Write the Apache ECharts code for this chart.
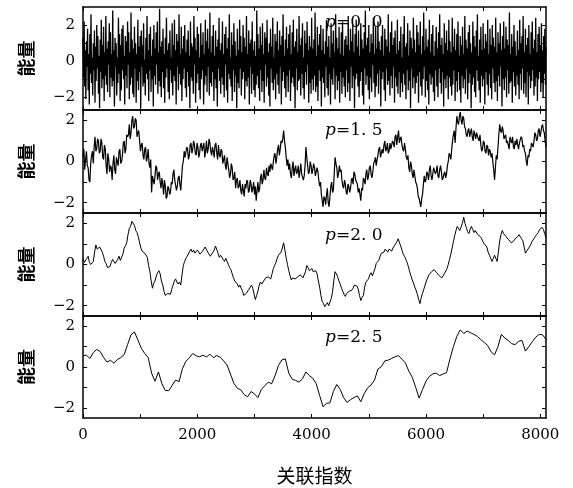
<!DOCTYPE html>
<html>
<head>
<meta charset="utf-8">
<script src="https://cdn.jsdelivr.net/npm/echarts@6/dist/echarts.min.js"></script>
<style>
  html, body { margin: 0; padding: 0; background: #fff; }
  #chart { width: 573px; height: 488px; }
</style>
</head>
<body>
<div id="chart"></div>
<script>
// energy series (sample spacing in steps[])
const p00 = [
  1.3,-0.9,2.2,-1.4,0.6,-2.1,1.1,-0.3,1.8,-1.6,0.4,-2.4,1.5,-0.7,2.6,-1.2,0.2,-1.9,1.0,-0.5,
  1.7,-2.3,0.8,-1.1,2.0,-0.4,1.4,-1.8,0.3,-2.6,1.2,-0.6,2.3,-1.5,0.9,-1.0,1.9,-2.2,0.5,-0.8,
  2.5,-1.3,0.7,-1.7,1.1,-0.2,2.1,-2.0,1.6,-0.9,0.4,-1.4,2.8,-1.1,0.6,-2.5,1.3,-0.3,1.0,-1.9,
  0.2,-1.2,2.4,-0.7,1.5,-2.2,0.9,-1.6,1.8,-0.5,2.0,-1.0,0.3,-2.4,1.4,-0.8,1.1,-1.5,2.2,-0.2,
  1.6,-2.1,0.5,-1.3,2.7,-0.9,1.2,-1.8,0.7,-2.0,1.9,-0.4,1.0,-2.3,0.4,-1.1,2.3,-1.6,0.8,-0.6,
  1.4,-2.6,1.7,-0.3,0.9,-1.4,2.1,-1.2,0.1,-1.9,1.3,-0.7,2.5,-1.0,0.6,-2.2,1.5,-0.5,1.9,-1.7,
  0.3,-1.0,1.2,-2.5,2.0,-0.8,0.7,-1.3,1.6,-0.2,2.2,-1.8,0.5,-1.1,2.9,-1.4,0.8,-2.0,1.1,-0.6,
  1.8,-1.5,0.4,-2.3,1.3,-0.9,2.4,-0.4,0.6,-1.7,1.0,-2.1,1.7,-0.5,0.2,-1.2,2.1,-1.9,0.9,-0.8,
  2.3,-1.1,0.6,-2.4,1.5,-0.3,1.1,-1.6,2.6,-0.7,0.4,-1.3,1.9,-2.2,0.7,-1.0,1.4,-0.4,2.0,-1.5,
  0.5,-2.0,1.2,-0.6,1.7,-1.4,0.3,-2.6,2.2,-0.9,1.0,-1.1,0.8,-1.8,2.5,-0.2,1.3,-2.3,0.6,-1.2,
  1.9,-0.7,1.5,-1.6,0.2,-2.1,2.1,-1.0,0.9,-0.5,1.6,-2.4,0.4,-1.3,2.3,-0.8,1.1,-1.7,1.8,-0.3,
  0.7,-1.9,2.7,-1.2,0.5,-1.4,1.4,-0.6,2.0,-2.2,0.3,-1.0,1.7,-1.5,0.8,-2.5,1.2,-0.4,2.4,-1.1,
  0.6,-1.8,1.0,-0.9,2.2,-1.3,0.4,-2.0,1.5,-0.2,1.9,-1.6,0.7,-2.3,1.3,-0.7,2.6,-1.0,0.2,-1.4,
  1.6,-2.2,0.9,-0.5,2.1,-1.7,1.1,-0.8,0.3,-2.6,1.8,-1.2,0.6,-1.5,2.3,-0.4,1.4,-1.9,0.5,-1.0,
  2.0,-0.6,1.3,-2.1,0.8,-1.1,2.5,-1.4,0.4,-0.9,1.7,-2.4,1.0,-0.3,1.2,-1.8,2.2,-0.7,0.6,-1.6,
  1.1,-2.0,0.3,-1.3,2.8,-0.8,1.5,-1.5,0.7,-2.2,1.9,-0.5,0.9,-1.7,2.1,-1.1,0.4,-2.3,1.6,-0.2,
  1.3,-1.4,2.3,-0.9,0.5,-1.9,1.0,-2.5,1.8,-0.4,0.8,-1.2,2.4,-1.6,0.2,-1.0,1.5,-2.1,1.1,-0.7,
  2.2,-1.3,0.6,-1.8,1.7,-0.3,0.9,-2.4,1.4,-1.1,2.6,-0.6,0.3,-1.5,1.2,-2.0,1.9,-0.8,0.7,-1.7,
  1.5,-0.5,2.0,-2.2,0.4,-1.2,1.6,-0.9,2.3,-1.4,0.8,-2.6,1.1,-0.4,1.8,-1.6,0.5,-1.1,2.5,-1.0,
  0.9,-1.9,1.3,-0.7,2.1,-1.5,0.2,-2.1,1.7,-0.6,1.0,-1.3,2.2,-0.2,0.6,-2.3,1.4,-1.2,0.8,-1.8,
  2.4,-1.0,0.7,-1.6,1.2,-0.8,2.7,-1.7,0.3,-1.4,1.9,-2.2,0.9,-0.5,1.5,-1.1,2.0,-2.5,0.6,-0.9,
  1.8,-1.2,0.4,-2.0,1.1,-0.3,2.3,-1.5,0.8,-1.9,1.4,-0.7,0.2,-2.4,2.1,-1.0,1.0,-1.3,1.7,-0.4,
  0.5,-2.1,2.6,-0.8,1.3,-1.6,0.7,-1.1,1.9,-2.3,0.4,-0.6,1.6,-1.8,2.2,-0.9,0.3,-1.4,1.2,-2.0,
  1.4,-0.5,0.9,-1.7,2.5,-1.2,0.6,-2.2,1.8,-0.3,1.1,-1.5,2.0,-0.8,0.5,-2.6,1.5,-1.0,2.3,-0.7,
  0.8,-1.4,1.7,-2.0,0.3,-1.1,2.1,-0.6,1.2,-1.9,0.7,-2.4,1.6,-0.4,2.8,-1.3,0.9,-0.8,1.3,-1.6,
  2.0,-2.1,0.5,-0.9,1.5,-1.7,1.0,-0.2,2.4,-1.2,0.4,-2.0,1.9,-1.4,0.7,-0.7,2.2,-1.8,1.1,-0.5,
  0.6,-2.5,1.4,-1.0,2.0,-0.6,0.3,-1.6,1.8,-2.2,1.2,-0.4,0.8,-1.3,2.6,-1.1,0.5,-1.9,1.6,-0.8,
  2.2,-1.5,0.9,-0.3,1.3,-2.3,1.7,-0.9,0.4,-1.4,2.3,-1.8,0.6,-0.6,1.1,-2.0,1.9,-1.2,0.2,-1.7,
  1.5,-0.7,2.5,-1.3,0.8,-2.1,1.0,-0.5,2.1,-1.6,0.3,-1.1,1.7,-2.6,1.3,-0.4,0.7,-1.5,2.4,-0.9,
  1.2,-1.8,0.5,-1.2,2.0,-0.8,1.6,-2.3,0.9,-0.6,2.2,-1.4,0.4,-1.9,1.4,-1.0,2.7,-0.3,0.6,-2.0,
  1.8,-1.1,0.8,-1.6,1.2,-2.4,2.3,-0.7,0.5,-1.3,1.5,-0.9,2.0,-1.7,0.3,-2.2,1.1,-0.5,1.9,-1.4,
  0.7,-2.0,1.6,-0.4,2.6,-1.2,0.9,-1.8,1.3,-0.6,0.4,-2.5,2.1,-1.0,1.0,-1.5,1.7,-0.8,0.6,-2.1,
  2.3,-0.9,1.1,-1.4,0.5,-1.9,2.4,-1.3,0.8,-0.5,1.8,-2.2,0.6,-1.1,1.5,-1.7,2.2,-0.6,0.3,-1.6,
  1.4,-2.3,0.9,-0.8,1.9,-1.5,0.4,-1.0,2.5,-1.8,1.2,-0.4,0.7,-2.1,1.6,-1.2,2.0,-0.7,1.0,-2.6,
  0.5,-1.3,2.2,-0.9,1.4,-1.7,0.8,-2.0,1.7,-0.5,2.6,-1.1,0.3,-1.6,1.2,-2.3,1.9,-0.8,0.6,-1.4,
  2.1,-1.0,0.7,-2.4,1.5,-0.6,1.1,-1.3,2.3,-1.9,0.4,-0.7,1.8,-1.5,0.9,-2.1,2.0,-0.4,1.3,-1.2,
  0.8,-1.7,2.4,-1.1,0.5,-2.2,1.6,-0.8,1.0,-1.4,2.1,-0.3,0.6,-2.5,1.4,-1.0,2.2,-1.6,0.7,-0.9,
  1.9,-2.0,1.2,-0.5,0.9,-1.8,2.7,-1.2,0.4,-1.1,1.5,-2.3,0.8,-0.6,2.0,-1.4,1.1,-1.9,0.3,-0.8,
  1.7,-1.3,0.6,-2.1,2.3,-0.7,1.0,-1.6,1.4,-0.4,2.5,-1.8,0.5,-1.2,1.8,-2.0,0.9,-0.6,1.3,-2.4,
  2.0,-0.8,0.4,-1.5,1.6,-1.1,2.2,-0.5,0.7,-1.9,1.2,-1.4,2.4,-0.9,0.5,-2.2,1.5,-1.0,1.9,-0.6,
  0.9,-1.7,2.1,-1.2,0.6,-2.0,1.4,-0.7,1.8,-1.3,0.8
]
const p15 = [
  0.2,0.6,-0.4,0.1,0.5,-0.2,-0.3,-0.9,-1.0,-0.1,0.3,0.5,-0.1,0.7,1.2,0.5,0.6,1.1,1.0,0.4,
  0.5,1.1,0.9,0.2,0.1,0.8,0.6,-0.2,-0.6,0.4,0.1,-0.5,-0.2,-0.3,-0.9,-0.1,0.3,-0.4,-0.6,0.2,
  0.2,-0.2,0.5,0.6,-0.1,0.0,0.3,0.9,1.0,0.4,0.6,1.3,1.2,1.3,1.8,1.1,1.4,2.0,2.2,1.6,
  1.7,2.1,2.0,1.2,1.4,1.5,1.0,0.5,0.8,0.9,0.3,0.1,0.6,0.7,0.0,0.2,0.6,-0.1,-0.3,0.1,
  -1.5,-0.7,-0.9,-1.1,-0.7,-0.2,-0.3,-0.9,-0.6,-0.5,-1.0,-1.3,-0.8,-1.1,-1.6,-0.9,-1.2,-1.8,-1.7,-1.2,
  -1.3,-1.6,-1.5,-1.0,-1.1,-0.6,-0.4,-0.9,-0.9,-1.4,-1.2,-0.8,-0.7,-1.1,-1.4,-0.8,-0.2,0.0,0.5,0.2,
  0.2,0.7,0.6,0.1,0.3,0.8,0.9,0.4,0.6,1.0,0.8,0.4,0.3,0.9,0.7,0.2,0.4,0.8,0.9,0.5,
  0.5,0.9,0.2,0.5,1.0,0.4,0.6,1.1,0.9,0.5,0.3,0.7,0.5,0.2,0.8,0.9,0.4,0.1,0.8,0.3,
  0.2,0.6,0.5,-0.1,0.1,0.3,-0.2,-0.4,0.2,-0.1,-0.4,-0.8,-0.6,-0.1,-0.3,-0.9,-0.8,-0.5,-1.3,-0.9,
  -0.8,-1.3,-1.2,-0.9,-1.4,-1.6,-1.1,-1.4,-1.7,-1.1,-1.3,-0.9,-1.0,-1.5,-1.4,-0.9,-1.1,-1.5,-1.3,-1.0,
  -1.6,-1.2,-1.9,-1.4,-1.0,-1.5,-1.3,-0.8,-0.6,-1.1,-0.9,-0.4,-0.8,-0.9,-0.3,-0.6,-0.7,-0.2,-0.5,-0.1,
  -0.1,-0.4,0.0,0.3,0.4,-0.1,0.2,0.6,0.8,0.3,0.6,1.0,0.9,1.1,1.5,1.0,0.7,0.2,-0.2,0.1,
  -0.4,-0.1,-0.6,-0.8,-0.3,0.0,-0.7,-0.4,-0.2,-0.6,-0.5,-0.2,-0.8,-0.5,-0.1,-0.6,-0.6,-0.9,-0.7,-0.2,
  0.7,0.2,-0.2,-0.6,-0.5,0.0,-0.2,-0.6,-0.4,-0.1,-0.3,-0.7,-0.7,-0.3,-0.5,-0.9,-1.2,-1.0,-1.6,-1.9,
  -2.2,-1.7,-1.8,-2.1,-1.6,-1.3,-2.0,-2.2,-1.7,-1.2,-1.0,-1.5,-1.4,-0.6,0.2,-0.1,-0.3,-0.8,-0.6,-0.2,
  -0.5,-0.4,-0.9,-1.2,-1.3,-0.9,-1.1,-1.5,-1.6,-1.1,-1.2,-1.5,-1.3,-0.9,-0.8,-1.1,-0.5,-0.6,-0.9,-1.0,
  -1.1,-1.5,-1.3,-1.6,-1.9,-1.3,-1.4,-0.8,-0.9,-1.1,-0.6,-0.4,-0.9,-0.7,-0.3,-0.2,-0.6,-0.8,-0.5,-0.1,
  0.0,0.2,-0.2,0.1,0.3,0.6,0.7,0.2,0.2,0.6,0.4,0.8,1.0,0.5,0.6,0.9,0.4,0.5,0.9,0.6,
  0.6,1.0,0.9,0.7,1.2,1.3,0.8,1.2,1.5,0.9,1.1,1.2,0.8,0.6,0.5,0.9,0.6,0.2,0.1,0.3,
  -0.3,-0.5,0.0,-0.2,-0.6,-0.8,-0.4,-0.7,-1.0,-1.1,-1.3,-1.7,-1.8,-2.0,-2.2,-1.8,-1.6,-1.1,-0.7,-1.0,
  -0.9,-0.5,-0.6,-0.9,-0.4,-0.2,-0.7,-0.9,-0.6,-0.3,-0.3,-0.6,-0.5,-0.2,-0.7,-0.8,-0.4,-0.2,-0.5,-0.9,
  -0.8,-0.6,-0.5,-0.8,-0.6,-0.2,0.0,0.4,0.3,0.1,0.6,1.0,1.3,1.5,0.9,1.6,2.2,1.9,1.8,2.2,
  2.4,2.0,1.8,2.2,2.1,1.7,1.6,1.3,1.2,1.5,1.6,1.2,1.4,1.6,1.2,1.0,1.5,1.3,1.1,1.4,
  1.4,1.1,1.0,1.3,0.8,0.5,0.6,1.0,0.9,0.5,0.4,0.8,0.7,0.3,0.6,0.5,0.2,0.4,0.0,-0.4,
  -0.9,-0.3,0.3,0.1,0.7,1.3,1.8,1.5,1.4,1.7,1.5,1.1,1.2,1.3,0.9,1.0,0.8,0.6,1.2,1.0,
  0.9,1.2,0.7,0.6,1.0,0.8,1.1,0.8,0.6,0.9,0.9,1.2,1.1,0.7,0.8,0.5,0.4,0.0,-0.2,0.3,
  0.2,0.6,0.5,0.9,0.8,0.7,1.0,1.4,1.3,1.0,1.1,1.5,1.6,1.2,1.4,1.7,1.8,1.5,1.4,1.0,
  0.7
]
const p20 = [
  0.3,0.1,0.05,0.3,0.4,0.1,0.0,0.0,0.15,0.6,0.95,0.75,0.7,0.85,0.9,0.6,0.4,0.15,0.05,-0.15,
  -0.2,-0.1,0.1,0.25,0.25,0.05,0.0,0.25,0.4,0.2,0.15,0.5,0.8,0.9,1.05,1.45,1.75,1.85,2.1,2.05,
  1.9,1.65,1.55,1.35,1.05,0.8,0.65,0.65,0.55,0.5,0.35,-0.05,-0.35,-0.8,-1.15,-0.9,-0.8,-0.55,-0.4,-0.3,
  -0.45,-0.8,-1.0,-1.3,-1.5,-1.55,-1.4,-1.35,-1.45,-1.2,-1.0,-0.8,-0.7,-0.85,-0.95,-0.85,-1.0,-0.5,-0.05,0.15,
  0.3,0.4,0.45,0.65,0.75,0.6,0.7,0.55,0.5,0.7,0.65,0.5,0.45,0.65,0.75,0.85,0.8,0.6,0.55,0.4,
  0.45,0.6,0.7,0.9,0.85,0.55,0.35,0.45,0.4,0.25,0.15,0.3,0.25,0.0,-0.15,-0.25,-0.45,-0.65,-0.8,-0.85,
  -0.95,-1.1,-1.0,-1.15,-1.3,-1.5,-1.55,-1.4,-1.35,-1.2,-1.1,-1.0,-1.15,-1.45,-1.7,-1.5,-1.3,-1.0,-0.85,-0.95,
  -0.9,-0.75,-0.65,-0.7,-0.6,-0.55,-0.7,-0.45,-0.2,-0.05,0.1,0.3,0.45,0.5,0.6,0.8,1.05,0.7,0.3,0.0,
  -0.3,-0.55,-0.75,-0.65,-0.6,-0.7,-0.75,-0.6,-0.65,-0.5,-0.55,-0.65,-0.7,-0.35,-0.05,-0.15,-0.3,-0.3,-0.2,-0.35,
  -0.4,-0.3,-0.45,-0.8,-1.1,-1.5,-1.8,-1.9,-2.05,-1.95,-1.85,-2.0,-1.95,-1.65,-1.35,-0.8,-0.35,-0.45,-0.6,-0.8,
  -0.95,-1.15,-1.3,-1.45,-1.55,-1.4,-1.45,-1.3,-1.35,-1.25,-1.15,-1.0,-0.95,-1.05,-1.2,-1.5,-1.75,-1.6,-1.5,-1.1,
  -0.85,-0.8,-0.7,-0.5,-0.4,-0.55,-0.5,-0.2,0.05,0.1,0.2,0.4,0.55,0.5,0.6,0.75,0.75,0.6,0.75,0.7,
  0.65,0.8,0.9,1.0,1.1,1.25,1.2,0.9,0.7,0.5,0.4,0.25,0.1,-0.1,-0.35,-0.55,-0.75,-0.9,-1.1,-1.25,
  -1.45,-1.7,-1.9,-1.6,-1.4,-1.2,-1.0,-0.8,-0.65,-0.5,-0.45,-0.35,-0.4,-0.25,-0.3,-0.4,-0.45,-0.55,-0.55,-0.65,
  -0.6,-0.45,-0.4,-0.2,0.0,0.25,0.5,0.8,1.1,1.4,1.65,1.85,1.8,1.65,1.7,2.0,2.3,2.0,1.8,1.6,
  1.5,1.7,1.85,1.7,1.55,1.65,1.6,1.45,1.45,1.35,1.25,1.1,1.0,0.95,0.85,0.6,0.45,0.3,0.15,0.3,
  0.45,0.3,0.15,0.6,1.15,1.45,1.65,1.5,1.45,1.35,1.3,1.2,1.15,1.05,1.0,1.15,1.25,1.3,1.35,1.45,
  1.4,1.25,1.15,0.85,0.55,0.65,0.75,0.85,0.95,1.1,1.15,1.3,1.4,1.45,1.55,1.7,1.75,1.8,1.7,1.5,
  1.3
]
const p25 = [
  0.55, 0.58, 0.42, 0.7, 0.86, 0.76, 0.47, 0.24, 0.33, 0.19,
  0.36, 0.46, 0.6, 1.1, 1.58, 1.72, 1.33, 0.92, 0.66, 0.46,
  -0.3, -0.7, -0.24, -0.82, -1.15, -1.16, -0.9, -0.64, -0.72, -0.08,
  0.28, 0.45, 0.66, 0.55, 0.5, 0.58, 0.49, 0.63, 0.46, 0.56,
  0.48, 0.3, 0.1, -0.35, -0.8, -1.04, -1.12, -1.35, -1.46, -1.2,
  -1.32, -1.5, -1.1, -0.92, -0.74, -0.82, -0.42, 0.08, 0.35, 0.4,
  -0.3, -0.6, -0.66, -0.74, -0.58, -0.24, -0.42, -0.55, -0.82, -1.4,
  -1.95, -1.78, -1.76, -1.2, -0.86, -1.1, -1.5, -1.74, -1.6, -1.5,
  -1.42, -1.7, -1.3, -1.02, -0.88, -0.64, -0.1, 0.02, 0.3, 0.34,
  0.42, 0.5, 0.56, 0.38, 0.2, -0.2, -0.5, -1.0, -1.52, -1.1,
  -0.7, -0.46, -0.34, -0.3, -0.42, -0.34, -0.28, 0.4, 1.0, 1.5,
  1.82, 1.64, 1.76, 1.68, 1.6, 1.5, 1.34, 1.2, 1.05, 0.74,
  0.6, 1.0, 1.6, 1.42, 1.3, 1.14, 1.1, 1.26, 1.3, 0.78,
  1.0, 1.24, 1.46, 1.6, 1.58, 1.35
]

const series_data = [p00, p15, p20, p25]
const steps = [10, 15, 22.5, 60]
const line_widths = [1.3, 1.2, 1, 1]
const panel_labels = ['0. 0', '1. 5', '2. 0', '2. 5']
const y_ranges = [[-2.7, 3.0], [-2.5, 2.5], [-2.5, 2.5], [-2.5, 2.5]]
const x_ticks = [0, 1000, 2000, 3000, 4000, 5000, 6000, 7000, 8000]
const x_labels = [0, 2000, 4000, 6000, 8000]
const y_ticks = [-2, -1, 0, 1, 2]
const y_labels = [-2, 0, 2]

const X_MAX = 8100
const grid_tops = [7, 110, 213, 316]
const grid_heights = [103, 103, 103, 102]
const label_tops = [9, 117, 222, 324]

const myChart = echarts.init(document.getElementById('chart'), null, { renderer: 'canvas' })

const serif = 'DejaVu Serif'
const cjk = 'Noto Sans CJK SC'
const lineBlack = { color: '#000', width: 1.5 }
const tickStyle = { color: '#000', width: 1 }

const grid = [], xAxis = [], yAxis = [], series = [], title = []

series_data.forEach((vals, i) => {
	const last = i === series_data.length - 1
	grid.push({ left: 83, width: 463, top: grid_tops[i], height: grid_heights[i] })

	// bottom and top x axes (top one mirrors the ticks)
	;['bottom', 'top'].forEach((pos) => {
		const showLabel = last && pos === 'bottom'
		xAxis.push({
			type: 'value',
			gridIndex: i,
			position: pos,
			min: 0,
			max: X_MAX,
			axisLine: { onZero: false, lineStyle: lineBlack },
			axisTick: { inside: true, length: 4, lineStyle: tickStyle, customValues: x_ticks },
			axisLabel: {
				show: showLabel,
				customValues: x_labels,
				margin: 10,
				color: '#000',
				fontFamily: serif,
				fontSize: 15,
				formatter: (v) => String(v),
			},
			splitLine: { show: false },
			name: showLabel ? '关联指数' : '',
			nameLocation: 'middle',
			nameGap: 48,
			nameTextStyle: { color: '#000', fontFamily: cjk, fontSize: 19 },
		})
	})

	;['left', 'right'].forEach((pos) => {
		const left = pos === 'left'
		yAxis.push({
			type: 'value',
			gridIndex: i,
			position: pos,
			min: y_ranges[i][0],
			max: y_ranges[i][1],
			axisLine: { onZero: false, lineStyle: lineBlack },
			axisTick: { inside: true, length: 4, lineStyle: tickStyle, customValues: y_ticks },
			axisLabel: {
				show: left,
				customValues: y_labels,
				margin: 8,
				color: '#000',
				fontFamily: serif,
				fontSize: 15,
				formatter: (v) => (v < 0 ? '\u2212' + Math.abs(v) : String(v)),
			},
			splitLine: { show: false },
			name: left ? '能量' : '',
			nameLocation: 'middle',
			nameRotate: 90,
			nameGap: 48,
			nameTextStyle: { color: '#000', fontFamily: cjk, fontSize: 18, fontWeight: 'bold' },
		})
	})

	series.push({
		type: 'line',
		xAxisIndex: i * 2,
		yAxisIndex: i * 2,
		showSymbol: false,
		symbol: 'none',
		lineStyle: { color: '#000', width: line_widths[i] },
		data: vals.map((v, k) => [k * steps[i], v]),
	})

	title.push({
		left: 320,
		top: label_tops[i],
		text: '{i|p}{n|=' + panel_labels[i] + '}',
		textStyle: {
			rich: {
				i: { fontFamily: serif, fontStyle: 'italic', fontWeight: 'normal', fontSize: 17, color: '#000' },
				n: { fontFamily: serif, fontWeight: 'normal', fontSize: 17, color: '#000' },
			},
		},
	})
})

const option = {
	animation: false,
	backgroundColor: '#fff',
	title: title,
	grid: grid,
	xAxis: xAxis,
	yAxis: yAxis,
	series: series,
}

myChart.setOption(option)
</script>
</body>
</html>
